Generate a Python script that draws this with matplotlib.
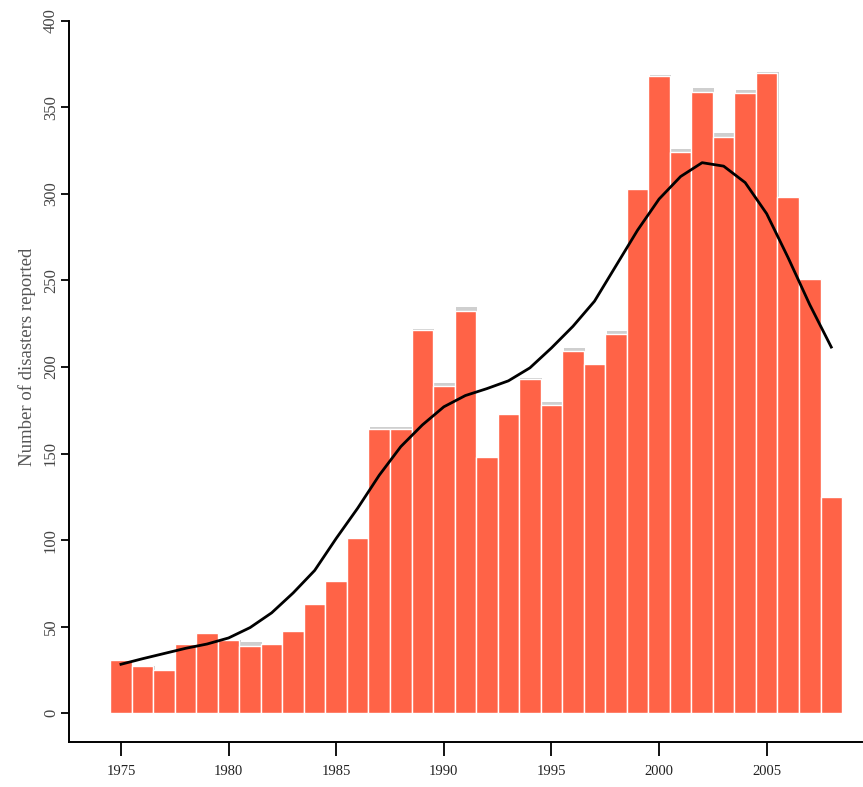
import matplotlib.pyplot as plt
import numpy as np

years = list(range(1975, 2009))

# disasters reported per year
disasters = [31, 27.5, 25, 40, 46.5, 42.5, 39, 40, 47.5, 63, 76.5, 101.5,
             164, 164, 221.5, 189, 232.5, 148, 173, 193, 178, 209, 201.5, 219,
             303, 368, 324, 359, 333, 358, 370, 298, 251, 125]

# grey bars behind (slightly higher counts in a few years)
disasters_upper = [31, 27.5, 25, 40, 46.5, 42.5, 41, 40, 47.5, 63, 76.5, 101.5,
                   165.5, 165.5, 222, 191, 234.5, 148, 173, 193.5, 180, 211, 201.5, 221,
                   303, 368.5, 326, 361, 335, 360, 370.5, 298, 251, 125]

# smoothed trend
trend = [28.3, 31.5, 34.5, 37.5, 40, 43.5, 49.5, 58, 69.5, 82.5, 101, 118.5,
         137.5, 154, 166.5, 177, 183.5, 187.5, 192, 199.5, 211, 223.5, 238, 258.5,
         279, 297, 310, 318, 316, 306.5, 288.5, 263, 236, 211.5]

plt.rcParams['font.family'] = ['Liberation Serif', 'DejaVu Serif']

fig = plt.figure(figsize=(8.63, 7.87), dpi=100)
ax = fig.add_axes([0.0803, 0.0576, 0.9186, 0.9161])

x = np.array(years)
ax.bar(x + 0.06, disasters_upper, width=1.0, color='#cfcfcf', linewidth=0, zorder=1)
ax.bar(x, disasters, width=1.0, color='#ff6347', edgecolor='white', linewidth=1.0, zorder=2)
ax.plot(x, trend, color='black', linewidth=2.0, zorder=3)

ax.set_xlim(1972.6, 2009.43)
ax.set_ylim(-16.4, 400)

ax.spines['top'].set_visible(False)
ax.spines['right'].set_visible(False)
for s in ['left', 'bottom']:
    ax.spines[s].set_linewidth(1.4)

ax.set_xticks(range(1975, 2006, 5))
ax.set_xticklabels([str(y) for y in range(1975, 2006, 5)], fontsize=10.5, color='#222222')
yt = list(range(0, 401, 50))
ax.set_yticks(yt)
ax.set_yticklabels([str(v) for v in yt], rotation=90, va='center', fontsize=12, color='#444444')

ax.tick_params(axis='x', direction='out', length=10, width=1.3, pad=7)
ax.tick_params(axis='y', direction='out', length=5.5, width=1.3, pad=2)

ax.set_ylabel('Number of disasters reported', fontsize=13.5, color='#555555')
ax.yaxis.set_label_coords(-0.042, 0.534)

fig.savefig('out.png', dpi=100)
